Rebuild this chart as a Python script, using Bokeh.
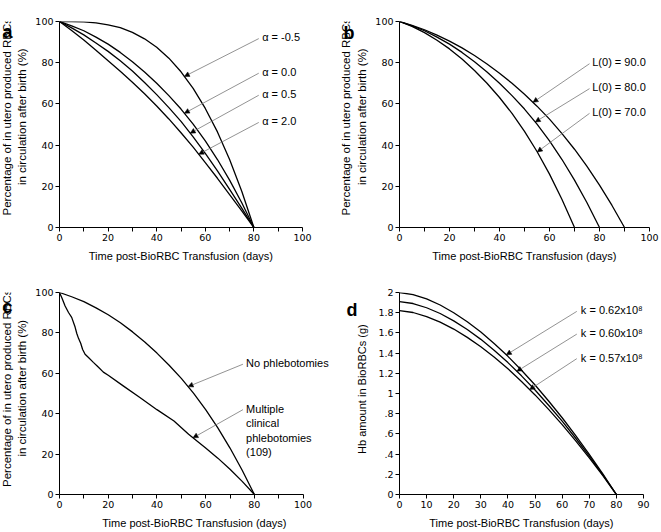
import math
from bokeh.plotting import figure
from bokeh.models import Range1d, FixedTicker, Label, Arrow, NormalHead, CustomJSTickFormatter
from bokeh.layouts import row, column
from bokeh.embed import file_html
from bokeh.resources import INLINE
import numpy as np

# ---------------- data ----------------
days5 = [0, 5, 10, 15, 20, 25, 30, 35, 40, 45, 50, 55, 60, 65, 70, 75, 80]

# panel a : effect of alpha
a_neg05 = [100, 99.98, 99.8, 99.3, 98.4, 97.0, 94.7, 91.6, 87.5, 82.2, 75.6, 67.5, 57.8, 46.4, 33.0, 17.6, 0]
a_00 = [100, 97.9, 95.5, 92.4, 89, 85, 80.5, 75.5, 70, 64, 57.5, 50.2, 42, 33, 23, 12, 0]
a_05 = [100, 96.9, 93.5, 89.6, 85.5, 80.9, 76, 70.4, 64.5, 58.2, 51.5, 44, 36, 27.5, 18.5, 9.4, 0]
a_20 = [100, 95.6, 91, 86.1, 81, 75.8, 70.5, 64.9, 59, 52.7, 46, 39, 31.5, 23.9, 16, 8.1, 0]
a_labels = ["α = -0.5", "α = 0.0", "α = 0.5", "α = 2.0"]
a_label_y = [92.3, 75.5, 64.8, 51.6]
a_point_day = [51.4, 51.4, 53.8, 57.3]

# panel b : effect of L(0)
b_t90 = [0, 5, 10, 15, 20, 25, 30, 35, 40, 45, 50, 55, 60, 65, 70, 75, 80, 85, 90]
b_90 = [100, 98.1, 96.0, 93.4, 90.5, 87.2, 83.5, 79.4, 74.9, 70, 64.7, 58.9, 52.6, 45.6, 38.0, 29.7, 20.6, 10.7, 0]
b_80 = [100, 97.9, 95.5, 92.4, 89, 85, 80.5, 75.5, 70, 64, 57.5, 50.2, 42, 33, 23, 12, 0]
b_t70 = [0, 5, 10, 15, 20, 25, 30, 35, 40, 45, 50, 55, 60, 65, 70]
b_70 = [100, 97.6, 94.6, 90.9, 86.7, 81.8, 76.2, 70, 63.1, 55.4, 46.7, 36.9, 25.9, 13.6, 0]
b_labels = ["L(0) = 90.0", "L(0) = 80.0", "L(0) = 70.0"]
b_label_y = [80.3, 68.2, 56.2]
b_point_day = [53.4, 54.3, 55.1]

# panel c : phlebotomies
c_none = [100, 97.9, 95.5, 92.4, 89, 85, 80.5, 75.5, 70, 64, 57.5, 50.2, 42, 33, 23, 12, 0]
c_t_mult = [0, 1, 2.3, 3.7, 5, 6.4, 7.1, 7.8, 8.7, 9.5, 10.5, 11.9, 13.9, 16, 18,
            20, 26, 33, 40, 47, 53, 60, 65, 70, 75, 80]
c_mult = [100, 97.3, 93.3, 90.1, 87.7, 82.9, 79.7, 77.3, 74.9, 71.8, 69.4, 67.8, 65.4, 63.0, 60.6,
          59.0, 53.9, 48.0, 42.0, 36.4, 29.8, 23.0, 18.0, 12.5, 6.5, 0]
c_labels = ["No phlebotomies", "Multiple\nclinical\nphlebotomies\n(109)"]
c_label_y = [64.9, 45.3]
c_point_day = [52.8, 54.8]

# panel d : Hb amount (g)
d_062 = [2.0, 1.98, 1.936, 1.876, 1.80, 1.71, 1.608, 1.493, 1.368, 1.23, 1.084, 0.926, 0.76, 0.583, 0.398, 0.204, 0]
d_060 = [1.91, 1.891, 1.849, 1.792, 1.719, 1.633, 1.536, 1.426, 1.306, 1.175, 1.035, 0.884, 0.726, 0.557, 0.380, 0.195, 0]
d_057 = [1.82, 1.802, 1.762, 1.707, 1.638, 1.556, 1.463, 1.359, 1.245, 1.119, 0.986, 0.843, 0.692, 0.531, 0.362, 0.186, 0]
d_labels = ["k = 0.62x10⁸", "k = 0.60x10⁸", "k = 0.57x10⁸"]
d_label_y = [1.823, 1.598, 1.355]
d_point_day = [39.4, 43.3, 48.0]

# ticks
x_major = [0, 20, 40, 60, 80, 100]
x_minor = [10, 30, 50, 70, 90]
y_major = [0, 20, 40, 60, 80, 100]
d_x_major = [0, 10, 20, 30, 40, 50, 60, 70, 80, 90]
d_y_ticks = [0, 0.2, 0.4, 0.6, 0.8, 1.0, 1.2, 1.4, 1.6, 1.8, 2.0]
d_y_labels = ["0", ".2", ".4", ".6", ".8", "1", "1.2", "1.4", "1.6", "1.8", "2"]

x_title = "Time post-BioRBC Transfusion (days)"
y_title1 = "Percentage of in utero produced RBCs"
y_title2 = "in circulation after birth (%)"
d_y_title = "Hb amount in BioRBCs (g)"

FONT = "Liberation Sans"
TICKFONT = "DejaVu Sans"


def make_panel(w, h, fl, ft, fw, fh, xr, yr):
    p = figure(width=w, height=h, x_range=Range1d(*xr), y_range=Range1d(*yr),
               output_backend="svg", toolbar_location=None,
               min_border_left=fl, min_border_top=ft,
               min_border_right=w - fl - fw, min_border_bottom=h - ft - fh)
    p.grid.visible = False
    p.outline_line_color = None
    for ax in p.axis:
        ax.axis_line_color = "black"
        ax.axis_line_width = 1
        ax.major_tick_out = 4
        ax.major_tick_in = 0
        ax.minor_tick_out = 4
        ax.minor_tick_in = 0
        ax.major_tick_line_color = "black"
        ax.minor_tick_line_color = "black"
        ax.major_label_text_font = TICKFONT
        ax.major_label_text_font_size = "9.5px"
        ax.major_label_text_color = "black"
        ax.major_label_standoff = 2
    xa = p.xaxis[0]
    xa.axis_label = x_title
    xa.axis_label_text_font = FONT
    xa.axis_label_text_font_size = "11px"
    xa.axis_label_text_font_style = "normal"
    xa.axis_label_text_color = "black"
    xa.axis_label_standoff = 6
    return p


class Margin:
    """A narrow axis-less figure whose frame is the whole canvas; positions are pixels from its top-left."""
    def __init__(self, w, h):
        self.h = h
        m = figure(width=w, height=h, x_range=Range1d(0, w), y_range=Range1d(0, h),
                   output_backend="svg", toolbar_location=None, min_border=0,
                   x_axis_location=None, y_axis_location=None)
        m.grid.visible = False
        m.outline_line_color = None
        self.fig = m

    def label(self, x, y_from_top, text, **kw):
        opts = dict(text_font=FONT, text_font_size="11px", text_color="black")
        opts.update(kw)
        self.fig.add_layout(Label(x=x, y=self.h - y_from_top, text=text, **opts))


def y_title(m, x1, x2, yc, size=11.5):
    common = dict(angle=math.pi / 2, text_align="center", text_baseline="middle",
                  text_font_size=f"{size}px")
    m.label(x1, yc, y_title1, **common)
    m.label(x2, yc, y_title2, **common)


def letter(m, x, y, t):
    m.label(x, y, t, text_font_size="18px", text_font_style="bold",
            text_baseline="alphabetic", text_align="left")


def dlabel(p, x, y, text, **kw):
    opts = dict(text_font=FONT, text_font_size="11px", text_color="black", text_baseline="middle")
    opts.update(kw)
    p.add_layout(Label(x=x, y=y, text=text, **opts))


def pointer(p, x0, y0, x1, y1):
    p.add_layout(Arrow(end=NormalHead(size=5, fill_color="black", line_color="black", line_width=0.5),
                       x_start=x0, y_start=y0, x_end=x1, y_end=y1,
                       line_color="#777777", line_width=0.8))


LW = 1.3
H1, H2 = 264, 267

# ---------------- panel a ----------------
ma = Margin(32, H1)
y_title(ma, 6, 21, 122)
letter(ma, 2, 13, "a")

pa = make_panel(298, H1, 26, 21, 244, 208, (0, 100), (0, 100))
pa.xaxis.ticker = FixedTicker(ticks=x_major, minor_ticks=x_minor)
pa.yaxis.ticker = FixedTicker(ticks=y_major)
a_series = [a_neg05, a_00, a_05, a_20]
for ys in a_series:
    pa.line(days5, ys, line_color="black", line_width=LW)
for ys, lab, ly, pdx in zip(a_series, a_labels, a_label_y, a_point_day):
    dlabel(pa, 83.4, ly, lab)
    pointer(pa, 82.0, ly - 0.6, pdx, float(np.interp(pdx, days5, ys)))

# ---------------- panel b ----------------
mb = Margin(42, H1)
y_title(mb, 15, 31.5, 122)
letter(mb, 13, 15, "b")

pb = make_panel(288, H1, 26, 21, 251, 208, (0, 100), (0, 100))
pb.xaxis.ticker = FixedTicker(ticks=x_major, minor_ticks=x_minor)
pb.yaxis.ticker = FixedTicker(ticks=y_major)
b_series = [(b_t90, b_90), (days5, b_80), (b_t70, b_70)]
for tx, ys in b_series:
    pb.line(tx, ys, line_color="black", line_width=LW)
for (tx, ys), lab, ly, pdx in zip(b_series, b_labels, b_label_y, b_point_day):
    dlabel(pb, 77.1, ly, lab)
    pointer(pb, 76.0, ly - 0.8, pdx, float(np.interp(pdx, tx, ys)))

# ---------------- panel c ----------------
mc = Margin(32, H2)
y_title(mc, 6, 21, 126.5)
letter(mc, 2, 19, "c")

c_fw = 271
pc = make_panel(298, H2, 26, 25, c_fw, 209, (0, 100 * c_fw / 244.5), (0, 100))
pc.xaxis.ticker = FixedTicker(ticks=x_major, minor_ticks=x_minor)
pc.xaxis.bounds = (0, 100)
pc.yaxis.ticker = FixedTicker(ticks=y_major)
c_series = [(days5, c_none), (c_t_mult, c_mult)]
for tx, ys in c_series:
    pc.line(tx, ys, line_color="black", line_width=LW)
for (tx, ys), lab, ly, pdx in zip(c_series, c_labels, c_label_y, c_point_day):
    multi = "\n" in lab
    dlabel(pc, 76.6, ly, lab, text_baseline="top" if multi else "middle", text_line_height=1.2)
    ay = ly - 3.3 if multi else ly - 0.4
    pointer(pc, 75.3, ay, pdx, float(np.interp(pdx, tx, ys)))

# ---------------- panel d ----------------
md = Margin(42, H2)
md.label(31.7, 127.7, d_y_title, angle=math.pi / 2, text_align="center", text_baseline="middle")
letter(md, 16, 23, "d")

pd_ = make_panel(288, H2, 27, 28, 244, 206, (0, 90), (0, 2))
pd_.xaxis.ticker = FixedTicker(ticks=d_x_major)
pd_.yaxis.ticker = FixedTicker(ticks=d_y_ticks)
pd_.yaxis.formatter = CustomJSTickFormatter(args=dict(tv=d_y_ticks, tl=d_y_labels), code="""
let best = 0, bd = 1e9;
for (let i = 0; i < tv.length; i++) {
  const dd = Math.abs(tv[i] - tick);
  if (dd < bd) { bd = dd; best = i; }
}
return tl[best];
""")
d_series = [d_062, d_060, d_057]
for ys in d_series:
    pd_.line(days5, ys, line_color="black", line_width=LW)
for ys, lab, ly, pdx in zip(d_series, d_labels, d_label_y, d_point_day):
    dlabel(pd_, 66.9, ly, lab)
    pointer(pd_, 65.4, ly - 0.01, pdx, float(np.interp(pdx, days5, ys)))

layout = column(row(ma.fig, pa, mb.fig, pb), row(mc.fig, pc, md.fig, pd_))
open("out.html", "w").write(file_html(layout, INLINE))
